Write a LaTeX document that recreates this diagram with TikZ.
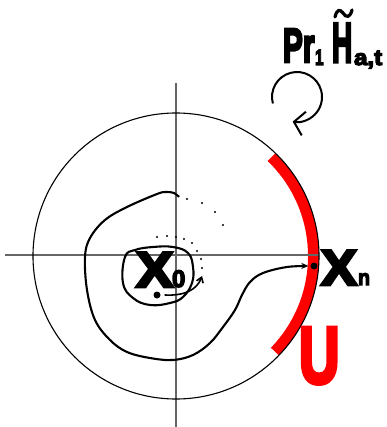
\documentclass[tikz,border=0pt]{standalone}
\usepackage{fontspec}
\usetikzlibrary{arrows.meta}
\newfontfamily\heavy{Liberation Sans Bold}[FakeBold=5.5]
\definecolor{ured}{RGB}{255,0,0}
\begin{document}
\begin{tikzpicture}[x=1pt,y=-1pt,
  lbl/.style={inner sep=0pt, outer sep=0pt, anchor=base west},
  axis/.style={draw=black!60, line width=1.2pt},
  curve/.style={draw=black, line width=2.1pt, line join=round},
  dotnode/.style={circle, fill=black, inner sep=0pt, minimum size=7pt}]
\useasboundingbox (0,0) rectangle (386,427);
% red band
\draw[ured, line width=11pt] (176,256) ++(-46:137.5) arc[start angle=-46, end angle=44, radius=137.5];
% axes
\coordinate (c) at (176,256);
\draw[axis] (5,255) -- (319,255);
\draw[axis] (176,83) -- (176,427);
% circle
\draw[line width=1.1pt] (c) circle[radius=143];
% dots
\node[dotnode] (x0dot) at (157,295) {};
\node[dotnode] (xndot) at (314,266) {};
% big curve
\draw[curve, -{Stealth[length=7pt,width=6pt]}, shorten >=2pt] plot[smooth, tension=0.6] coordinates {
 (179,197) (174,193) (166,192) (157,194) (127,207) (105,220) (90,238) (85,257) (87,290) (95,320) (110,340) (127,352) (150,358) (173,360) (193,355) (210,343) (223,327) (235,310) (242,295) (250,282) (263,273) (287,267) (xndot.west)};
% inner loop
\draw[curve] plot[smooth cycle, tension=0.7] coordinates {
 (125,257) (135,250) (153,247) (173,247) (188,253) (193,267) (192,283) (183,297) (170,303) (150,305) (133,298) (123,283)};
% small arrow
\draw[line width=1.6pt, -{Straight Barb[length=5pt,width=7pt]}] (x0dot.east) ++(4,0) .. controls (184,296) and (197,290) .. (202,276);
% dotted
\foreach \p in {(187,199),(202,203),(215,212),(223,225),(157,237),(167,236),(176,237),(184,239),(192,243),(197,251),(201,259),(202,268)}
  \fill \p circle[radius=1.2];
% labels
\node[lbl] (X0) at (136,287) {\fontsize{50}{50}\heavy\scalebox{1.12}[1]{X}};
\node[lbl] (X0s) at (172,287) {\fontsize{24}{24}\heavy 0};
\node[lbl] (Xn) at (321,285) {\fontsize{50}{50}\heavy\scalebox{1.08}[1]{X}};
\node[lbl] (Xns) at (358,285) {\fontsize{22}{22}\heavy\scalebox{0.9}[1]{n}};
\node[lbl, text=ured] (U) at (299,383) {\fontsize{80}{80}\heavy\scalebox{0.7}[1]{U}};
% title
\node[lbl] (Pr) at (283,62) {\fontsize{48}{48}\heavy\scalebox{0.62}[1]{Pr}};
\node[lbl] (one) at (315,65) {\fontsize{22}{22}\heavy\scalebox{0.7}[1]{1}};
\node[lbl] (H) at (332,62) {\fontsize{56}{56}\heavy\scalebox{0.5}[1]{H}};
\node[lbl] (at) at (354,65) {\fontsize{22}{22}\heavy\scalebox{1.1}[1]{a,t}};
\draw[line width=3.2pt, line cap=round] (335,17) .. controls (337,9) and (340,9) .. (343,13) .. controls (346,18) and (350,18) .. (352,10);
% rotation arrow
\draw[line width=2pt, -{Straight Barb[length=10pt,width=24pt]}] (297,97) ++(-195:25) arc[start angle=-195, end angle=100, radius=25];
\end{tikzpicture}
\end{document}
